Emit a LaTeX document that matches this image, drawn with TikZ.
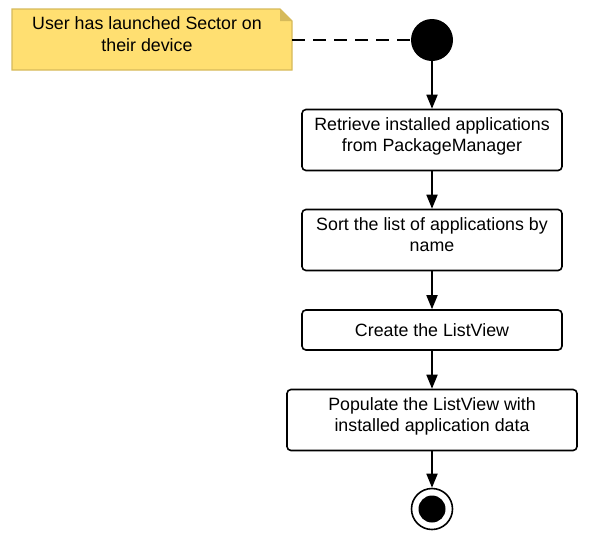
\documentclass[tikz,border=0pt]{standalone}
\usepackage{fontspec}
\setmainfont{Liberation Sans}
\usetikzlibrary{arrows.meta,positioning}
\definecolor{notefill}{HTML}{FFDF71}
\definecolor{notedraw}{HTML}{D6BA5A}
\begin{document}
\begin{tikzpicture}[x=1pt,y=-1pt,
  act/.style={draw=black,line width=1.6pt,rounded corners=4pt,fill=white,align=center,
    font=\fontsize{17.8}{21.8}\selectfont,inner sep=0pt},
  raise/.style={execute at end node={\rule[-11pt]{0pt}{11pt}}},
  flow/.style={line width=1.8pt,-{Triangle[width=11pt,length=14pt]}},
  txt/.style={align=center,font=\fontsize{17.8}{21.8}\selectfont}]
\useasboundingbox (0,0) rectangle (604,552);
% note
\draw[fill=notefill,draw=notedraw,line width=1.4pt]
  (12,9) -- (280,9) -- (292,21) -- (292,70) -- (12,70) -- cycle;
\fill[notedraw] (280,9) -- (280,21) -- (292,21) -- cycle;
\node[txt] (note) at (147,34) {User has launched Sector on\\their device};
\coordinate (noteR) at (292,40);
% start
\node[circle,fill=black,minimum size=42pt,inner sep=0pt] (start) at (432,40) {};
% activities
\node[act,raise,minimum width=260pt,minimum height=61pt] (a1) at (432,140) {Retrieve installed applications\\from PackageManager};
\node[act,raise,minimum width=260pt,minimum height=61pt] (a2) at (432,240) {Sort the list of applications by\\name};
\node[act,minimum width=260pt,minimum height=40pt] (a3) at (432,330) {Create the ListView};
\node[act,raise,minimum width=290pt,minimum height=61pt] (a4) at (432,420) {Populate the ListView with\\installed application data};
% end
\node[circle,draw=black,line width=1.6pt,fill=white,minimum size=41pt,inner sep=0pt] (end) at (432,509) {};
\node[circle,fill=black,minimum size=27pt,inner sep=0pt] (endin) at (432,509) {};
% connectors
\draw[line width=1.8pt,dash pattern=on 13pt off 8pt] (noteR) -- (start.west);
\draw[flow] (start) -- (a1);
\draw[flow] (a1) -- (a2);
\draw[flow] (a2) -- (a3);
\draw[flow] (a3) -- (a4);
\draw[flow] (a4) -- (end);
\end{tikzpicture}
\end{document}
